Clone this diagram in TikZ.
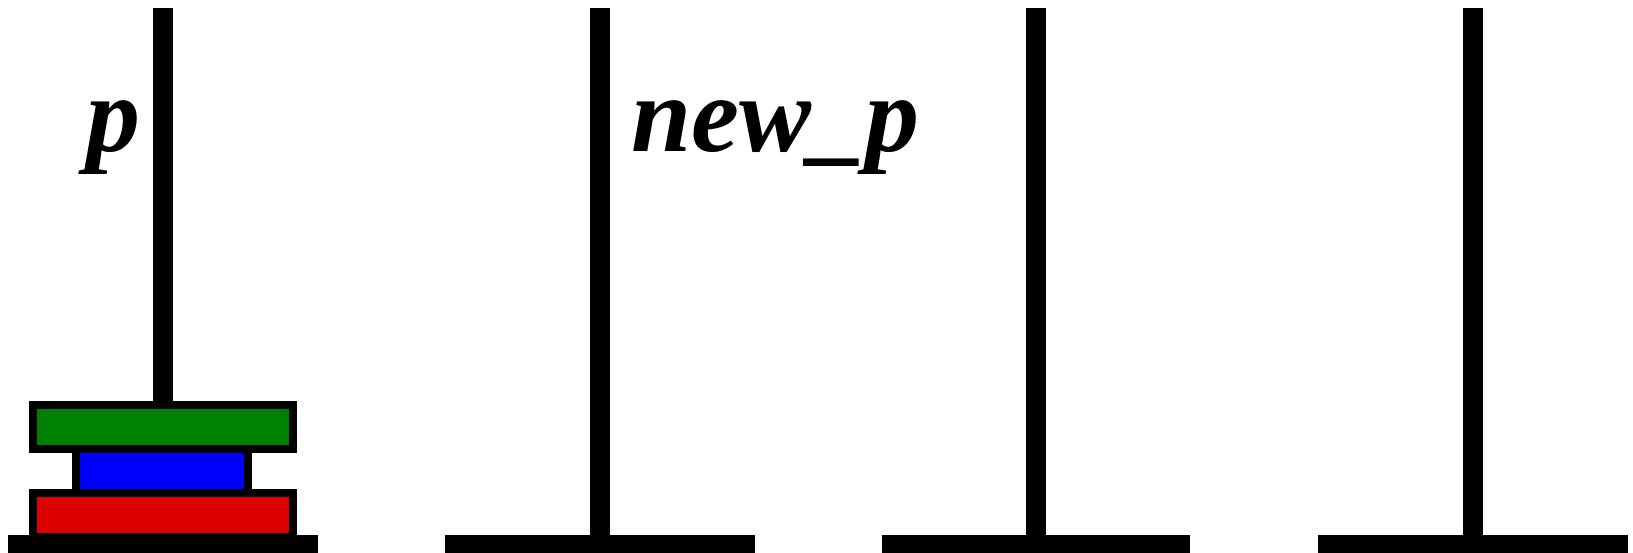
\documentclass[tikz,border=0pt]{standalone}
\usepackage{fontspec}
\setmainfont{Liberation Serif}[BoldItalicFont={Liberation Serif Bold Italic}]
\definecolor{diskgreen}{RGB}{0,128,0}
\definecolor{diskblue}{RGB}{0,0,255}
\definecolor{diskred}{RGB}{221,0,0}
\tikzset{
  pole/.style={fill=black, draw=none},
  disk/.style={draw=black, line width=8pt},
  lbl/.style={inner sep=0pt, anchor=base west, font=\fontsize{108pt}{112pt}\selectfont\bfseries\itshape}
}
\begin{document}
\begin{tikzpicture}[x=1pt,y=-1pt]
\useasboundingbox (0,0) rectangle (1633,553);
% poles
\fill[pole] (153,8) rectangle (173,540);
\fill[pole] (590,8) rectangle (610,540);
\fill[pole] (1026,8) rectangle (1046,540);
\fill[pole] (1463,8) rectangle (1483,540);
% disks
\draw[disk, fill=diskred] (33,493) rectangle (293,537);
\draw[disk, fill=diskblue] (76,449) rectangle (248,493);
\draw[disk, fill=diskgreen] (33,405) rectangle (293,449);
% bases
\fill[pole] (8,535) rectangle (318,553);
\fill[pole] (445,535) rectangle (755,553);
\fill[pole] (882,535) rectangle (1190,553);
\fill[pole] (1318,535) rectangle (1628,553);
% labels
\node[lbl] (lp) at (86,152) {p};
\node[lbl] (lnp) at (631,152) {new\_p};
\end{tikzpicture}
\end{document}
